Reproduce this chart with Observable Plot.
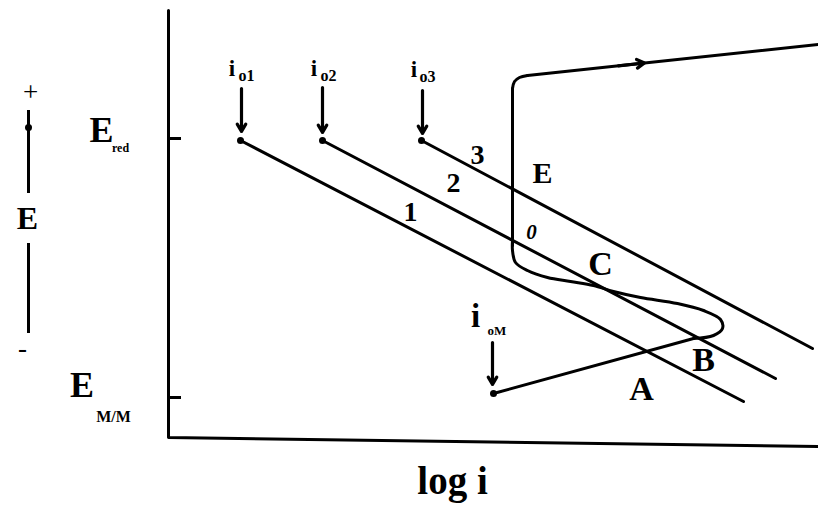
<!DOCTYPE html>
<html>
<head>
<meta charset="utf-8">
<script src="https://cdn.jsdelivr.net/npm/d3@7"></script>
<script src="https://cdn.jsdelivr.net/npm/@observablehq/plot@0.6"></script>
<style>
  body { margin: 0; background: #fff; }
</style>
</head>
<body>
<div id="chart"></div>
<script>
// Evans diagram: cathodic Tafel lines for three exchange current densities
// and the anodic (active–passive–transpassive) curve of the metal.
// Units: x = log i (arbitrary), y = E (arbitrary).

// Reversible potentials marked on the E axis
const potentialLevels = [30.2, 4.3];

// Frame of the diagram (E axis and log i axis)
const frame = [
  {x: 0, y: 43}, {x: 0, y: 0.3}, {x: 65, y: -0.6}
];

// Cathodic lines 1, 2, 3 starting at E_red
const cathodic = [
  {line: "1", x: 7.2,  y: 30.0}, {line: "1", x: 57.5, y: 3.9},
  {line: "2", x: 15.4, y: 30.0}, {line: "2", x: 60.7, y: 6.2},
  {line: "3", x: 25.3, y: 30.0}, {line: "3", x: 64.4, y: 9.2}
];
const cathodicStarts = [
  {x: 7.2, y: 30.0}, {x: 15.4, y: 30.0}, {x: 25.3, y: 30.0}
];

// Anodic curve of the metal, split into its parts
const anodic = [
  // active dissolution from i0M
  {part: "active", x: 32.5, y: 4.7}, {part: "active", x: 52.5, y: 10.2},
  // active–passive loop
  {part: "loop", x: 52.5, y: 10.2}, {part: "loop", x: 54.5, y: 10.5},
  {part: "loop", x: 55.4, y: 11.2}, {part: "loop", x: 55.2, y: 12.1},
  {part: "loop", x: 53.5, y: 13.0}, {part: "loop", x: 50.9, y: 13.7},
  {part: "loop", x: 47.2, y: 14.3}, {part: "loop", x: 44.5, y: 14.9},
  {part: "loop", x: 42.5, y: 15.5}, {part: "loop", x: 40.2, y: 15.9},
  {part: "loop", x: 37.9, y: 16.3}, {part: "loop", x: 35.9, y: 17.0},
  {part: "loop", x: 34.7, y: 17.8}, {part: "loop", x: 34.4, y: 19.0},
  {part: "loop", x: 34.4, y: 20.0},
  // passive range
  {part: "passive", x: 34.4, y: 19.5}, {part: "passive", x: 34.4, y: 35.2},
  {part: "bend", x: 34.4, y: 35.2}, {part: "bend", x: 34.6, y: 35.9},
  {part: "bend", x: 35.1, y: 36.3}, {part: "bend", x: 35.9, y: 36.5},
  // transpassive
  {part: "trans", x: 35.9, y: 36.5}, {part: "trans", x: 65.0, y: 39.6}
];
const anodicStart = [{x: 32.5, y: 4.7}];
const transArrow = [{x1: 45.0, y1: 37.47, x2: 47.6, y2: 37.75}];

// Exchange current density markers (arrows pointing down to each line start)
const exchangeArrows = [
  {x: 7.3,  y1: 35.2, y2: 30.9},
  {x: 15.4, y1: 35.3, y2: 30.8},
  {x: 25.4, y1: 35.0, y2: 30.7},
  {x: 32.4, y1: 9.8,  y2: 5.6}
];
const exchangeMain = [
  {t: "i", x: 6.35, y: 37.2},
  {t: "i", x: 14.55, y: 37.2},
  {t: "i", x: 24.55, y: 37.1}
];
const exchangeSub = [
  {t: "o1", x: 7.0, y: 36.5},
  {t: "o2", x: 15.2, y: 36.5},
  {t: "o3", x: 25.1, y: 36.4}
];
const metalMain = [{t: "i", x: 30.7, y: 12.4}];
const metalSub = [{t: "oM", x: 31.9, y: 11.0}];

// Labels on the curves
const curveNumbers = [
  {t: "1", x: 24.2, y: 22.8},
  {t: "2", x: 28.5, y: 25.7},
  {t: "3", x: 30.9, y: 28.5}
];
const pointLetters = [
  {t: "E", x: 37.4, y: 26.7, size: 30},
  {t: "C", x: 43.2, y: 17.6, size: 34},
  {t: "B", x: 53.5, y: 8.0, size: 34},
  {t: "A", x: 47.3, y: 5.1, size: 34}
];
const pointZero = [{t: "0", x: 36.3, y: 20.8}];

// Potential labels left of the E axis
const potentialMain = [
  {t: "E", x: -6.7, y: 31.0},
  {t: "E", x: -8.65, y: 5.5}
];
const potentialSub = [
  {t: "red", x: -4.8, y: 29.2, size: 12},
  {t: "M/M", x: -5.5, y: 2.4, size: 16}
];

// Direction indicator of E (+ at the top, − at the bottom)
const eIndicatorBars = [
  {x: -14.0, y1: 33.0, y2: 24.7},
  {x: -14.0, y1: 19.7, y2: 10.7}
];
const eIndicatorDot = [{x: -14.0, y: 31.3}];
const eIndicatorSigns = [
  {t: "+", x: -13.8, y: 34.8},
  {t: "-", x: -14.6, y: 9.2}
];
const eIndicatorLabel = [{t: "E", x: -14.1, y: 22.2}];

const axisLabel = [{t: "log i", x: 28.4, y: -4.1}];

const serif = "Liberation Serif, Times New Roman, serif";

const chart = Plot.plot({
  width: 818,
  height: 507,
  marginLeft: 168,
  marginRight: 0,
  marginTop: 10,
  marginBottom: 67,
  x: {domain: [0, 65], axis: null},
  y: {domain: [0, 43], axis: null},
  style: {background: "#fff", overflow: "visible"},
  marks: [
    // axes frame
    Plot.line(frame, {x: "x", y: "y", stroke: "#000", strokeWidth: 3}),
    Plot.ruleY(potentialLevels, {x1: 0, x2: 1.3, stroke: "#000", strokeWidth: 3}),

    // cathodic lines
    Plot.line(cathodic, {x: "x", y: "y", z: "line", stroke: "#000", strokeWidth: 3}),
    Plot.dot(cathodicStarts, {x: "x", y: "y", r: 3.5, fill: "#000"}),

    // anodic curve
    Plot.line(anodic, {x: "x", y: "y", z: "part", curve: "catmull-rom",
      stroke: "#000", strokeWidth: 3, strokeLinecap: "round", strokeLinejoin: "round"}),
    Plot.dot(anodicStart, {x: "x", y: "y", r: 3.5, fill: "#000"}),
    Plot.arrow(transArrow, {x1: "x1", y1: "y1", x2: "x2", y2: "y2",
      stroke: "#000", strokeWidth: 3.2, headLength: 8}),

    // exchange current density arrows
    Plot.arrow(exchangeArrows, {x1: "x", x2: "x", y1: "y1", y2: "y2",
      stroke: "#000", strokeWidth: 3.2, headLength: 4}),
    Plot.text(exchangeMain, {x: "x", y: "y", text: "t", fontFamily: serif,
      fontWeight: "bold", fontSize: 23, fill: "#000"}),
    Plot.text(exchangeSub, {x: "x", y: "y", text: "t", textAnchor: "start",
      fontFamily: serif, fontWeight: "bold", fontSize: 16, fill: "#000"}),
    Plot.text(metalMain, {x: "x", y: "y", text: "t", fontFamily: serif,
      fontWeight: "bold", fontSize: 33, fill: "#000"}),
    Plot.text(metalSub, {x: "x", y: "y", text: "t", textAnchor: "start",
      fontFamily: serif, fontWeight: "bold", fontSize: 13, fill: "#000"}),

    // curve and point labels
    Plot.text(curveNumbers, {x: "x", y: "y", text: "t", fontFamily: serif,
      fontWeight: "bold", fontSize: 28, fill: "#000"}),
    Plot.text(pointLetters, {x: "x", y: "y", text: "t", fontFamily: serif,
      fontWeight: "bold", fontSize: "size", fill: "#000"}),
    Plot.text(pointZero, {x: "x", y: "y", text: "t", fontFamily: serif,
      fontStyle: "italic", fontWeight: "bold", fontSize: 21, fill: "#000"}),

    // potential labels
    Plot.text(potentialMain, {x: "x", y: "y", text: "t", fontFamily: serif,
      fontWeight: "bold", fontSize: 36, fill: "#000"}),
    Plot.text(potentialSub, {x: "x", y: "y", text: "t", fontFamily: serif,
      fontWeight: "bold", fontSize: "size", fill: "#000",
      textAnchor: d => d.t === "red" ? "start" : "middle"}),

    // E direction indicator
    Plot.ruleX(eIndicatorBars, {x: "x", y1: "y1", y2: "y2", stroke: "#000", strokeWidth: 3}),
    Plot.dot(eIndicatorDot, {x: "x", y: "y", r: 3.5, fill: "#000"}),
    Plot.text(eIndicatorSigns, {x: "x", y: "y", text: "t", fontFamily: serif,
      fontSize: 27, fill: "#000"}),
    Plot.text(eIndicatorLabel, {x: "x", y: "y", text: "t", fontFamily: serif,
      fontWeight: "bold", fontSize: 32, fill: "#000"}),

    // x axis title
    Plot.text(axisLabel, {x: "x", y: "y", text: "t", fontFamily: serif,
      fontWeight: "bold", fontSize: 39, fill: "#000"})
  ]
});

document.getElementById("chart").appendChild(chart);
</script>
</body>
</html>
